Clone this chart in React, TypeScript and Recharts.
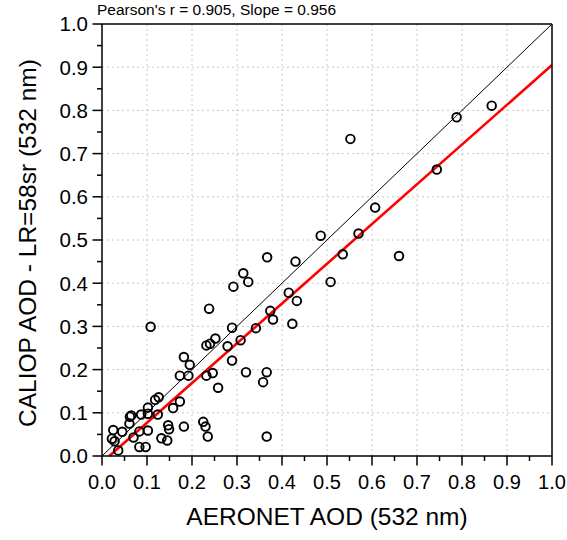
import React from 'react';
import { ScatterChart, Scatter, XAxis, YAxis, CartesianGrid, ReferenceLine } from 'recharts';

const aeronetAod = [
  0.022, 0.025, 0.028, 0.036, 0.045, 0.061, 0.062, 0.065, 0.070, 0.083,
  0.083, 0.087, 0.097, 0.102, 0.102, 0.102, 0.108, 0.118, 0.124, 0.126,
  0.132, 0.145, 0.147, 0.149, 0.158, 0.173, 0.173, 0.182, 0.182, 0.192,
  0.195, 0.225, 0.230, 0.232, 0.232, 0.235, 0.238, 0.240, 0.246, 0.252,
  0.258, 0.279, 0.289, 0.289, 0.292, 0.308, 0.314, 0.320, 0.325, 0.342,
  0.358, 0.366, 0.366, 0.367, 0.374, 0.380, 0.415, 0.423, 0.430, 0.433,
  0.486, 0.508, 0.535, 0.552, 0.570, 0.607, 0.660, 0.744, 0.788, 0.866,
];
const caliopAod = [
  0.040, 0.060, 0.034, 0.013, 0.056, 0.075, 0.091, 0.094, 0.043, 0.021,
  0.057, 0.096, 0.021, 0.059, 0.098, 0.112, 0.299, 0.130, 0.096, 0.136,
  0.041, 0.036, 0.071, 0.062, 0.111, 0.126, 0.186, 0.068, 0.229, 0.186,
  0.211, 0.079, 0.068, 0.186, 0.256, 0.045, 0.341, 0.260, 0.192, 0.272,
  0.158, 0.254, 0.221, 0.297, 0.392, 0.268, 0.423, 0.194, 0.403, 0.296,
  0.171, 0.045, 0.194, 0.460, 0.336, 0.316, 0.378, 0.306, 0.450, 0.359,
  0.510, 0.403, 0.467, 0.734, 0.515, 0.575, 0.463, 0.663, 0.784, 0.811,
];

const allTicks = [
  0, 0.05, 0.1, 0.15, 0.2, 0.25, 0.3, 0.35, 0.4, 0.45, 0.5,
  0.55, 0.6, 0.65, 0.7, 0.75, 0.8, 0.85, 0.9, 0.95, 1.0,
];
const gridValues = [0.1, 0.2, 0.3, 0.4, 0.5, 0.6, 0.7, 0.8, 0.9];

const fitSlope = 0.92;
const fitIntercept = -0.015;
const statsTitle = "Pearson's r = 0.905, Slope = 0.956";
const xTitle = 'AERONET AOD (532 nm)';
const yTitle = 'CALIOP AOD - LR=58sr (532 nm)';

const points = aeronetAod.map((x, i) => ({ x, y: caliopAod[i] }));
const fitStartX = -fitIntercept / fitSlope;

const FONT = '"Liberation Sans", Arial, sans-serif';
const MAJOR = 9.5;
const MINOR = 5;

const isMajor = (v: number) => Math.round(v * 100) % 10 === 0;

const BottomTick = (props: any) => {
  const { x, y, payload } = props;
  const v = payload.value as number;
  const major = isMajor(v);
  return (
    <g>
      <line x1={x} x2={x} y1={y} y2={y + (major ? MAJOR : MINOR)} stroke="#000" strokeWidth={1.5} />
      {major && (
        <text x={x} y={y + 33} textAnchor="middle" fontSize={20} fontFamily={FONT} fill="#000">
          {v.toFixed(1)}
        </text>
      )}
    </g>
  );
};

const LeftTick = (props: any) => {
  const { x, y, payload } = props;
  const v = payload.value as number;
  const major = isMajor(v);
  return (
    <g>
      <line x1={x - (major ? MAJOR : MINOR)} x2={x} y1={y} y2={y} stroke="#000" strokeWidth={1.5} />
      {major && (
        <text x={x - 14} y={y} dy="0.36em" textAnchor="end" fontSize={20.5} fontFamily={FONT} fill="#000">
          {v.toFixed(1)}
        </text>
      )}
    </g>
  );
};

const TopTick = (props: any) => {
  const { x, y, payload } = props;
  const major = isMajor(payload.value);
  return <line x1={x} x2={x} y1={y} y2={y + (major ? MAJOR : MINOR)} stroke="#000" strokeWidth={1.5} />;
};

const RightTick = (props: any) => {
  const { x, y, payload } = props;
  const major = isMajor(payload.value);
  return <line x1={x - (major ? MAJOR : MINOR)} x2={x} y1={y} y2={y} stroke="#000" strokeWidth={1.5} />;
};

const OpenCircle = (props: any) => {
  const { cx, cy } = props;
  return <circle cx={cx} cy={cy} r={4.3} fill="none" stroke="#000" strokeWidth={1.9} />;
};

export default function App() {
  return (
    <div style={{ position: 'absolute', left: 0, top: 0, width: 567, height: 540, background: '#fff' }}>
      <div
        style={{
          position: 'absolute',
          left: 97,
          top: 1,
          fontFamily: FONT,
          fontSize: 15.5,
          color: '#000',
          whiteSpace: 'nowrap',
          lineHeight: '18px',
        }}
      >
        {statsTitle}
      </div>
      <ScatterChart width={567} height={540} margin={{ top: 24, right: 15, bottom: 0, left: 0 }}>
        <CartesianGrid
          stroke="#c8c8c8"
          strokeDasharray="2 3"
          strokeWidth={1}
          verticalValues={gridValues}
          horizontalValues={gridValues}
        />
        <XAxis
          dataKey="x"
          type="number"
          domain={[0, 1]}
          ticks={allTicks}
          interval={0}
          allowDataOverflow
          height={84}
          tickSize={0}
          tickMargin={0}
          tickLine={false}
          axisLine={{ stroke: '#000', strokeWidth: 1.5 }}
          tick={(p: any) => <BottomTick {...p} />}
          label={{
            content: () => (
              <text x={327} y={525} textAnchor="middle" fontSize={24.5} fontFamily={FONT} fill="#000">
                {xTitle}
              </text>
            ),
          }}
        />
        <XAxis
          xAxisId="top"
          orientation="top"
          mirror
          type="number"
          domain={[0, 1]}
          ticks={allTicks}
          interval={0}
          height={10}
          tickSize={0}
          tickMargin={0}
          tickLine={false}
          axisLine={{ stroke: '#000', strokeWidth: 1.5 }}
          tick={(p: any) => <TopTick {...p} />}
        />
        <YAxis
          dataKey="y"
          type="number"
          domain={[0, 1]}
          ticks={allTicks}
          interval={0}
          allowDataOverflow
          width={102}
          tickSize={0}
          tickMargin={0}
          tickLine={false}
          axisLine={{ stroke: '#000', strokeWidth: 1.5 }}
          tick={(p: any) => <LeftTick {...p} />}
          label={{
            content: () => (
              <text
                transform="translate(36,243) rotate(-90)"
                textAnchor="middle"
                fontSize={24.5}
                fontFamily={FONT}
                fill="#000"
              >
                {yTitle}
              </text>
            ),
          }}
        />
        <YAxis
          yAxisId="right"
          orientation="right"
          mirror
          type="number"
          domain={[0, 1]}
          ticks={allTicks}
          interval={0}
          width={10}
          tickSize={0}
          tickMargin={0}
          tickLine={false}
          axisLine={{ stroke: '#000', strokeWidth: 1.5 }}
          tick={(p: any) => <RightTick {...p} />}
        />
        <ReferenceLine
          segment={[{ x: 0, y: 0 }, { x: 1, y: 1 }]}
          stroke="#000"
          strokeWidth={1}
        />
        <ReferenceLine
          segment={[{ x: fitStartX, y: 0 }, { x: 1, y: fitSlope + fitIntercept }]}
          stroke="#ff0000"
          strokeWidth={2.6}
        />
        <Scatter data={points} shape={(p: any) => <OpenCircle {...p} />} isAnimationActive={false} />
      </ScatterChart>
    </div>
  );
}
